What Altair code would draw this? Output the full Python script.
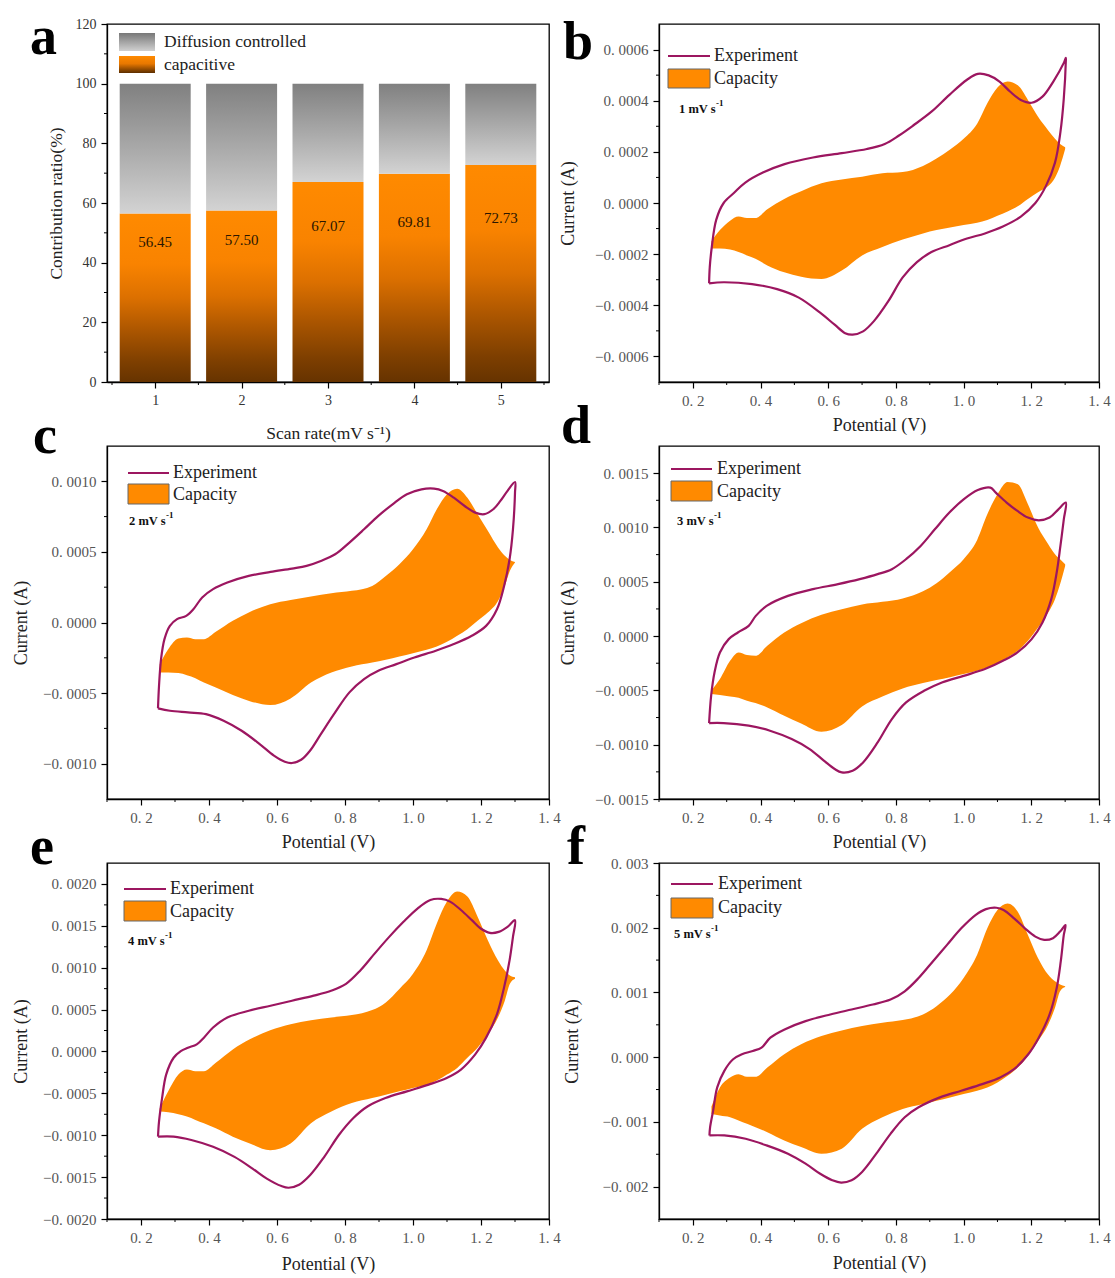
import altair as alt
import pandas as pd

SERIF = "Liberation Serif"
LINE_COLOR = "#9c1660"
ORANGE = "#ff8a00"

# ---------------- panel a data ----------------
RATES = [1, 2, 3, 4, 5]
CAPACITIVE = [56.45, 57.50, 67.07, 69.81, 72.73]
A_Y_TICKS = [0, 20, 40, 60, 80, 100, 120]
A_Y_MINOR = [10, 30, 50, 70, 90, 110]
A_X_MINOR = [0.5, 1.5, 2.5, 3.5, 4.5, 5.5]

# ---------------- CV panels data ----------------
X_TICKS = [0.2, 0.4, 0.6, 0.8, 1.0, 1.2, 1.4]
X_MINOR = [0.1, 0.3, 0.5, 0.7, 0.9, 1.1, 1.3]

CAP_V = [0.255, 0.28, 0.31, 0.335, 0.36, 0.385, 0.42, 0.47, 0.52, 0.58, 0.64, 0.70, 0.76, 0.82,
         0.88, 0.92, 0.96, 1.00, 1.04, 1.07, 1.10, 1.13, 1.16, 1.19, 1.22, 1.25, 1.27, 1.285, 1.30]

B_CAP_UP = [-0.000150, -0.000106, -0.000069, -0.000053, -0.000059, -0.000059, -0.000024, 0.000016, 0.000046,
            0.000077, 0.000092, 0.000103, 0.000116, 0.000121, 0.000145, 0.000174, 0.000209, 0.000251,
            0.000310, 0.000390, 0.000452, 0.000475, 0.000460, 0.000403, 0.000337, 0.000284, 0.000251,
            0.000231, 0.000218]
B_CAP_LO = [-0.000178, -0.000178, -0.000182, -0.000192, -0.000205, -0.000218, -0.000244, -0.000271, -0.000288,
            -0.000297, -0.000264, -0.000205, -0.000172, -0.000143, -0.000119, -0.000106, -0.000096, -0.000086,
            -0.000077, -0.000066, -0.000050, -0.000033, -0.000013, 0.000016, 0.000042, 0.000066, 0.000099,
            0.000145, 0.000211]
B_EXP_V = [0.248, 0.291, 0.375, 0.449, 0.513, 0.576, 0.619, 0.650, 0.672, 0.703, 0.735, 0.778, 0.820, 0.862,
           0.905, 0.958, 1.010, 1.063, 1.116, 1.169, 1.212, 1.243, 1.270, 1.286, 1.296, 1.302, 1.302,
           1.296, 1.265, 1.233, 1.201, 1.169, 1.137, 1.106, 1.074, 1.042, 1.010, 0.958, 0.905, 0.852, 0.809,
           0.767, 0.714, 0.640, 0.555, 0.471, 0.407, 0.354, 0.322, 0.291, 0.269, 0.256, 0.250, 0.248]
B_EXP_I = [-0.000314, -0.000310, -0.000317, -0.000337, -0.000370, -0.000429, -0.000476, -0.000509, -0.000515,
           -0.000502, -0.000462, -0.000383, -0.000291, -0.000231, -0.000192, -0.000165, -0.000139, -0.000119,
           -0.000092, -0.000053, 0.000000, 0.000066, 0.000158, 0.000277, 0.000409, 0.000555, 0.000568,
           0.000548, 0.000475, 0.000416, 0.000392, 0.000403, 0.000436, 0.000475, 0.000499, 0.000505, 0.000482,
           0.000423, 0.000357, 0.000304, 0.000264, 0.000231, 0.000211, 0.000195, 0.000178, 0.000152, 0.000119,
           0.000079, 0.000040, 0.000000, -0.000066, -0.000172, -0.000251, -0.000314]

C_CAP_UP = [-0.000295, -0.000189, -0.000113, -0.000106, -0.000118, -0.000118, -0.000066, 0.000012, 0.000075,
            0.000130, 0.000160, 0.000184, 0.000208, 0.000224, 0.000259, 0.000330, 0.000413, 0.000519,
            0.000660, 0.000802, 0.000908, 0.000948, 0.000884, 0.000767, 0.000649, 0.000531, 0.000472,
            0.000443, 0.000429]
C_CAP_LO = [-0.000354, -0.000354, -0.000358, -0.000373, -0.000394, -0.000425, -0.000460, -0.000514, -0.000557,
            -0.000585, -0.000538, -0.000425, -0.000354, -0.000311, -0.000283, -0.000264, -0.000241, -0.000217,
            -0.000193, -0.000170, -0.000137, -0.000094, -0.000047, 0.000012, 0.000071, 0.000153, 0.000259,
            0.000366, 0.000425]
C_EXP_V = [0.250, 0.285, 0.338, 0.391, 0.443, 0.496, 0.549, 0.591, 0.623, 0.644, 0.671, 0.697, 0.729, 0.771,
           0.813, 0.856, 0.898, 0.951, 1.004, 1.067, 1.120, 1.173, 1.215, 1.247, 1.268, 1.284, 1.294, 1.300,
           1.300,
           1.278, 1.257, 1.236, 1.210, 1.183, 1.152, 1.120, 1.088, 1.062, 1.025, 0.982, 0.940, 0.898, 0.856,
           0.813, 0.771, 0.729, 0.687, 0.644, 0.581, 0.517, 0.454, 0.412, 0.380, 0.354, 0.333, 0.306, 0.285,
           0.269, 0.259, 0.253, 0.250]
C_EXP_I = [-0.000608, -0.000625, -0.000637, -0.000649, -0.000696, -0.000767, -0.000861, -0.000943, -0.000986,
           -0.000995, -0.000972, -0.000908, -0.000790, -0.000637, -0.000495, -0.000401, -0.000342, -0.000295,
           -0.000248, -0.000200, -0.000153, -0.000094, -0.000024, 0.000094, 0.000259, 0.000448, 0.000660,
           0.000920, 0.000995,
           0.000932, 0.000861, 0.000802, 0.000767, 0.000778, 0.000825, 0.000884, 0.000932, 0.000948, 0.000943,
           0.000908, 0.000837, 0.000755, 0.000660, 0.000566, 0.000483, 0.000436, 0.000401, 0.000382, 0.000358,
           0.000330, 0.000283, 0.000236, 0.000177, 0.000094, 0.000047, 0.000024, -0.000024, -0.000118,
           -0.000259, -0.000448, -0.000608]

D_CAP_UP = [-0.000500, -0.000396, -0.000228, -0.000151, -0.000175, -0.000182, -0.000090, 0.000033, 0.000119,
            0.000196, 0.000248, 0.000291, 0.000315, 0.000346, 0.000413, 0.000487, 0.000591, 0.000708,
            0.000885, 0.001121, 0.001305, 0.001419, 0.001397, 0.001213, 0.000999, 0.000846, 0.000754,
            0.000708, 0.000662]
D_CAP_LO = [-0.000534, -0.000543, -0.000556, -0.000568, -0.000595, -0.000617, -0.000657, -0.000733, -0.000804,
            -0.000881, -0.000819, -0.000648, -0.000556, -0.000482, -0.000433, -0.000405, -0.000378, -0.000350,
            -0.000320, -0.000289, -0.000249, -0.000197, -0.000136, -0.000044, 0.000079, 0.000217, 0.000340,
            0.000478, 0.000646]
D_EXP_V = [0.248, 0.291, 0.365, 0.428, 0.492, 0.545, 0.587, 0.619, 0.640, 0.672, 0.703, 0.746, 0.788, 0.830,
           0.883, 0.936, 1.000, 1.063, 1.116, 1.159, 1.201, 1.233, 1.259, 1.275, 1.286, 1.296, 1.302,
           1.280, 1.254, 1.222, 1.190, 1.159, 1.127, 1.095, 1.079, 1.042, 1.000, 0.958, 0.915, 0.873, 0.830,
           0.788, 0.746, 0.693, 0.629, 0.555, 0.481, 0.418, 0.386, 0.365, 0.333, 0.306, 0.280, 0.264, 0.254,
           0.248]
D_EXP_I = [-0.000801, -0.000801, -0.000825, -0.000871, -0.000948, -0.001040, -0.001147, -0.001224, -0.001255,
           -0.001239, -0.001163, -0.000979, -0.000764, -0.000611, -0.000504, -0.000427, -0.000366, -0.000304,
           -0.000228, -0.000151, -0.000028, 0.000125, 0.000340, 0.000585, 0.000830, 0.001075, 0.001229,
           0.001167, 0.001091, 0.001066, 0.001091, 0.001152, 0.001229, 0.001321, 0.001367, 0.001345, 0.001259,
           0.001137, 0.000983, 0.000830, 0.000708, 0.000616, 0.000570, 0.000524, 0.000478, 0.000432, 0.000370,
           0.000278, 0.000186, 0.000094, 0.000033, -0.000028, -0.000151, -0.000335, -0.000550, -0.000801]

E_CAP_UP = [-0.000680, -0.000476, -0.000276, -0.000216, -0.000236, -0.000236, -0.000135, 0.000025, 0.000145,
            0.000254, 0.000326, 0.000374, 0.000406, 0.000434, 0.000494, 0.000586, 0.000747, 0.000927,
            0.001208, 0.001529, 0.001789, 0.001909, 0.001849, 0.001609, 0.001328, 0.001087, 0.000967,
            0.000907, 0.000887]
E_CAP_LO = [-0.000717, -0.000725, -0.000749, -0.000777, -0.000817, -0.000857, -0.000917, -0.001017, -0.001098,
            -0.001178, -0.001098, -0.000857, -0.000717, -0.000616, -0.000556, -0.000516, -0.000476, -0.000436,
            -0.000396, -0.000348, -0.000276, -0.000196, -0.000075, 0.000045, 0.000205, 0.000406, 0.000606,
            0.000807, 0.000867]
E_EXP_V = [0.250, 0.296, 0.348, 0.412, 0.475, 0.528, 0.570, 0.613, 0.634, 0.665, 0.697, 0.739, 0.782, 0.824,
           0.866, 0.919, 0.982, 1.046, 1.099, 1.141, 1.183, 1.215, 1.247, 1.268, 1.284, 1.294, 1.300,
           1.278, 1.252, 1.226, 1.199, 1.173, 1.141, 1.109, 1.083, 1.051, 1.014, 0.972, 0.930, 0.887, 0.845,
           0.803, 0.761, 0.708, 0.644, 0.581, 0.517, 0.454, 0.412, 0.385, 0.364, 0.338, 0.317, 0.296, 0.274,
           0.262, 0.253, 0.250]
E_EXP_I = [-0.001017, -0.001017, -0.001057, -0.001138, -0.001258, -0.001398, -0.001518, -0.001607, -0.001627,
           -0.001591, -0.001478, -0.001258, -0.000997, -0.000797, -0.000657, -0.000556, -0.000476, -0.000396,
           -0.000316, -0.000216, -0.000035, 0.000165, 0.000446, 0.000767, 0.001087, 0.001368, 0.001568,
           0.001488, 0.001428, 0.001416, 0.001468, 0.001568, 0.001689, 0.001789, 0.001821, 0.001809, 0.001709,
           0.001548, 0.001368, 0.001168, 0.000967, 0.000807, 0.000727, 0.000666, 0.000606, 0.000546, 0.000486,
           0.000406, 0.000286, 0.000165, 0.000085, 0.000045, 0.000005, -0.000075, -0.000276, -0.000556,
           -0.000837, -0.001017]

F_CAP_UP = [-0.000760, -0.000467, -0.000313, -0.000262, -0.000303, -0.000303, -0.000160, 0.000045, 0.000199,
            0.000327, 0.000414, 0.000480, 0.000532, 0.000573, 0.000660, 0.000788, 0.000967, 0.001223,
            0.001581, 0.001991, 0.002273, 0.002375, 0.002247, 0.001889, 0.001530, 0.001274, 0.001172,
            0.001121, 0.001095]
F_CAP_LO = [-0.000877, -0.000902, -0.000928, -0.000979, -0.001030, -0.001081, -0.001158, -0.001286, -0.001389,
            -0.001491, -0.001414, -0.001107, -0.000928, -0.000800, -0.000723, -0.000672, -0.000621, -0.000569,
            -0.000518, -0.000467, -0.000390, -0.000288, -0.000160, 0.000020, 0.000250, 0.000506, 0.000762,
            0.001018, 0.001085]
F_EXP_V = [0.249, 0.293, 0.356, 0.418, 0.481, 0.533, 0.575, 0.612, 0.638, 0.669, 0.700, 0.742, 0.784, 0.826,
           0.867, 0.930, 0.993, 1.055, 1.108, 1.149, 1.191, 1.222, 1.254, 1.275, 1.287, 1.296, 1.301,
           1.285, 1.264, 1.238, 1.212, 1.181, 1.149, 1.118, 1.097, 1.066, 1.035, 0.993, 0.951, 0.909, 0.867,
           0.826, 0.784, 0.732, 0.669, 0.606, 0.533, 0.471, 0.429, 0.403, 0.377, 0.345, 0.319, 0.293, 0.272,
           0.260, 0.251, 0.249]
F_EXP_I = [-0.001209, -0.001209, -0.001261, -0.001363, -0.001491, -0.001645, -0.001798, -0.001901, -0.001937,
           -0.001901, -0.001773, -0.001491, -0.001184, -0.000928, -0.000774, -0.000621, -0.000518, -0.000416,
           -0.000313, -0.000185, 0.000045, 0.000301, 0.000660, 0.001069, 0.001479, 0.001889, 0.002042,
           0.001940, 0.001838, 0.001812, 0.001863, 0.001991, 0.002145, 0.002273, 0.002309, 0.002288, 0.002196,
           0.001991, 0.001735, 0.001479, 0.001223, 0.001018, 0.000890, 0.000813, 0.000737, 0.000660, 0.000557,
           0.000429, 0.000301, 0.000148, 0.000096, 0.000045, -0.000032, -0.000211, -0.000467, -0.000825,
           -0.001081, -0.001209]

# ---------------- styles ----------------
def grad(stops):
    return alt.LinearGradient(
        gradient="linear",
        stops=[alt.GradientStop(color=c, offset=o) for o, c in stops],
        x1=0, x2=0, y1=0, y2=1,
    )

ORANGE_GRAD = grad([(0, "#ff8a00"), (0.3, "#f98300"), (0.5, "#dc7000"), (0.7, "#aa5500"), (0.88, "#7e3f00"), (1, "#663300")])
GRAY_GRAD = grad([(0, "#808080"), (0.5, "#a9a9a9"), (1, "#d3d3d3")])
SW_GRAY = grad([(0, "#787878"), (1, "#d0d0d0")])
SW_ORANGE = grad([(0, "#ff8a00"), (0.45, "#e87800"), (1, "#5c2e00")])

ONE = pd.DataFrame({"k": [0]})


def txt(s, x, y, size, weight="normal", color="#222", align="left", baseline="middle"):
    return alt.Chart(ONE).mark_text(
        text=s, font=SERIF, fontSize=size, fontWeight=weight, color=color,
        align=align, baseline=baseline,
    ).encode(x=alt.value(x), y=alt.value(y))


def letter(s, x, y):
    return txt(s, x, y, 54, weight="bold", color="#000", baseline="alphabetic")


# ---------------- panel a ----------------
W_A, H_A = 442, 358
xs_a = alt.Scale(domain=[0.5, 5.5], nice=False, zero=False)
ys_a = alt.Scale(domain=[0, 120], nice=False, zero=False)
df_a = pd.DataFrame({"rate": RATES, "cap": CAPACITIVE})
base_a = alt.Chart(df_a).transform_calculate(
    total="100", ly="datum.cap * 0.49 + 19.3", lbl="format(datum.cap, '.2f')"
)
x_axis_a = alt.Axis(
    values=RATES, format="d", tickSize=6, labelPadding=5, labelFontSize=14, labelColor="#333",
    labelFont=SERIF, title="Scan rate(mV s\u207b\u00b9)", titleFont=SERIF, titleFontSize=17.5,
    titleFontWeight="normal", titleColor="#222", titleX=W_A / 2, titleY=51, titleAlign="center",
    titleBaseline="middle", grid=False,
)
y_axis_a = alt.Axis(
    values=A_Y_TICKS, format="d", tickSize=6, labelPadding=5, labelFontSize=14, labelColor="#333",
    labelFont=SERIF, title="Contribution ratio(%)", titleFont=SERIF, titleFontSize=17.5,
    titleFontWeight="normal", titleColor="#222", titleX=-51, titleY=H_A / 2, titleAngle=270,
    titleAlign="center", titleBaseline="middle", grid=False,
)


def XA(field):
    return alt.X(field, scale=xs_a, axis=x_axis_a, title="Scan rate(mV s\u207b\u00b9)")


def YA(field, **kw):
    return alt.Y(field, scale=ys_a, axis=y_axis_a, title="Contribution ratio(%)", **kw)


cap_bars = base_a.mark_bar(size=71, color=ORANGE_GRAD).encode(
    x=XA("rate:Q"), y=YA("cap:Q", stack=None), y2=alt.datum(0),
)
dif_bars = base_a.mark_bar(size=71, color=GRAY_GRAD).encode(
    x=XA("rate:Q"), y=YA("cap:Q", stack=None), y2="total:Q",
)
bar_lbl = base_a.mark_text(font=SERIF, fontSize=15, color="#2a1600").encode(
    x=XA("rate:Q"), y=YA("ly:Q"), text="lbl:N",
)
a_minor_y = alt.Chart(pd.DataFrame({"t": A_Y_MINOR})).mark_rule(color="#000", strokeWidth=1).encode(
    y=YA("t:Q"), x=alt.value(0), x2=alt.value(-3))
a_minor_x = alt.Chart(pd.DataFrame({"t": A_X_MINOR})).mark_rule(color="#000", strokeWidth=1).encode(
    x=XA("t:Q"), y=alt.value(H_A), y2=alt.value(H_A + 3))
a_sw1 = alt.Chart(ONE).mark_rect(color=SW_GRAY).encode(
    x=alt.value(12), x2=alt.value(48), y=alt.value(9), y2=alt.value(27))
a_sw2 = alt.Chart(ONE).mark_rect(color=SW_ORANGE).encode(
    x=alt.value(12), x2=alt.value(48), y=alt.value(32), y2=alt.value(49))
marker = alt.Chart(ONE).mark_text(text=".", fontSize=2, color="#ffffff", align="left", baseline="top").encode(
    x=alt.value(-106), y=alt.value(-23))

panel_a = alt.layer(
    cap_bars, dif_bars, bar_lbl, a_minor_y, a_minor_x, a_sw1, a_sw2,
    txt("Diffusion controlled", 57, 18, 17.5), txt("capacitive", 57, 41, 17.5),
    letter("a", -77, 30), marker,
).properties(width=W_A, height=H_A)


# ---------------- CV panels ----------------
def cv_panel(W, H, ydom, yticks, yminor, fmt, cap_up, cap_lo, exp_v, exp_i, rate_txt,
             let, let_xy, leg, ytx, xty):
    xs = alt.Scale(domain=[0.1, 1.4], nice=False, zero=False)
    ys = alt.Scale(domain=ydom, nice=False, zero=False)
    xaxis = alt.Axis(
        values=X_TICKS, labelExpr="replace(format(datum.value, '.1f'), '.', '. ')",
        tickSize=6, labelPadding=5, labelFontSize=15, labelColor="#555", labelFont=SERIF,
        title="Potential (V)", titleFont=SERIF, titleFontSize=18, titleFontWeight="normal",
        titleColor="#222", titleX=W / 2, titleY=xty, titleAlign="center", titleBaseline="middle",
        grid=False,
    )
    yaxis = alt.Axis(
        values=yticks, labelExpr="replace(format(datum.value, '%s'), '.', '. ')" % fmt,
        tickSize=6, labelPadding=5, labelFontSize=15, labelColor="#555", labelFont=SERIF,
        title="Current (A)", titleFont=SERIF, titleFontSize=18, titleFontWeight="normal",
        titleColor="#222", titleX=ytx, titleY=H / 2, titleAngle=270, titleAlign="center",
        titleBaseline="middle", grid=False,
    )

    def X(field):
        return alt.X(field, scale=xs, axis=xaxis, title="Potential (V)")

    def Y(field):
        return alt.Y(field, scale=ys, axis=yaxis, title="Current (A)")

    cap_df = pd.DataFrame(list(zip(CAP_V, cap_up, cap_lo)), columns=["V", "up", "lo"])
    exp_df = pd.DataFrame([(i, v, c) for i, (v, c) in enumerate(zip(exp_v, exp_i))],
                          columns=["i", "V", "I"])
    area = alt.Chart(cap_df).mark_area(color=ORANGE, opacity=1, interpolate="monotone").encode(
        x=X("V:Q"), y=Y("up:Q"), y2="lo:Q",
    )
    line = alt.Chart(exp_df).mark_line(color=LINE_COLOR, strokeWidth=2.2, interpolate="catmull-rom").encode(
        x=X("V:Q"), y=Y("I:Q"), order="i:Q",
    )
    mx = alt.Chart(pd.DataFrame({"t": X_MINOR})).mark_rule(color="#000", strokeWidth=1).encode(
        x=X("t:Q"), y=alt.value(H), y2=alt.value(H + 3))
    my = alt.Chart(pd.DataFrame({"t": yminor})).mark_rule(color="#000", strokeWidth=1).encode(
        y=Y("t:Q"), x=alt.value(0), x2=alt.value(-3))
    lx0, lx1, ly1, by0, by1, tx, ty2, rx, ry = leg
    leg_line = alt.Chart(ONE).mark_rule(color=LINE_COLOR, strokeWidth=2.2).encode(
        x=alt.value(lx0), x2=alt.value(lx1), y=alt.value(ly1))
    leg_box = alt.Chart(ONE).mark_rect(color=ORANGE, stroke="#666", strokeWidth=1).encode(
        x=alt.value(lx0), x2=alt.value(lx1), y=alt.value(by0), y2=alt.value(by1))
    return alt.layer(
        area, line, mx, my, leg_line, leg_box,
        txt("Experiment", tx, ly1, 18), txt("Capacity", tx, ty2, 18),
        txt(rate_txt, rx, ry, 12.5, weight="bold", color="#111"),
        txt("-1", rx + 37, ry - 6, 9, weight="bold", color="#111"),
        letter(let, let_xy[0], let_xy[1]),
    ).properties(width=W, height=H)


panel_b = cv_panel(
    440, 358, [-0.0007, 0.0007],
    [-0.0006, -0.0004, -0.0002, 0.0, 0.0002, 0.0004, 0.0006],
    [-0.0005, -0.0003, -0.0001, 0.0001, 0.0003, 0.0005], ".4f",
    B_CAP_UP, B_CAP_LO, B_EXP_V, B_EXP_I, "1 mV s",
    "b", (-96, 35), (9, 51, 32, 45, 64, 55, 55, 20, 85), -91, 43,
)
panel_c = cv_panel(
    442, 353, [-0.00125, 0.00125],
    [-0.001, -0.0005, 0.0, 0.0005, 0.001],
    [-0.00075, -0.00025, 0.00025, 0.00075], ".4f",
    C_CAP_UP, C_CAP_LO, C_EXP_V, C_EXP_I, "2 mV s",
    "c", (-74, 7), (21, 62, 27, 38, 58, 66, 49, 22, 75), -86, 43,
)
panel_d = cv_panel(
    440, 353, [-0.0015, 0.00175],
    [-0.0015, -0.001, -0.0005, 0.0, 0.0005, 0.001, 0.0015],
    [-0.00125, -0.00075, -0.00025, 0.00025, 0.00075, 0.00125], ".4f",
    D_CAP_UP, D_CAP_LO, D_EXP_V, D_EXP_I, "3 mV s",
    "d", (-98, -3), (12, 53, 23, 35, 55, 58, 46, 18, 75), -91, 43,
)
panel_e = cv_panel(
    442, 356, [-0.002, 0.00225],
    [-0.002, -0.0015, -0.001, -0.0005, 0.0, 0.0005, 0.001, 0.0015, 0.002],
    [-0.00175, -0.00125, -0.00075, -0.00025, 0.00025, 0.00075, 0.00125, 0.00175], ".4f",
    E_CAP_UP, E_CAP_LO, E_EXP_V, E_EXP_I, "4 mV s",
    "e", (-77, 1), (17, 59, 26, 38, 58, 63, 49, 21, 78), -86, 45,
)
panel_f = cv_panel(
    440, 356, [-0.0025, 0.003],
    [-0.002, -0.001, 0.0, 0.001, 0.002, 0.003],
    [-0.0015, -0.0005, 0.0005, 0.0015, 0.0025], ".3f",
    F_CAP_UP, F_CAP_LO, F_EXP_V, F_EXP_I, "5 mV s",
    "f", (-92, 1), (12, 54, 21, 35, 55, 59, 45, 15, 71), -87, 44,
)

chart = alt.concat(
    panel_a, panel_b, panel_c, panel_d, panel_e, panel_f,
    columns=2, spacing={"row": 64, "column": 110}, bounds="flush", align="each",
).properties(
    padding=0, background="white"
).configure_view(
    stroke="#000", strokeWidth=1.3
).configure_axis(
    domainColor="#000", domainWidth=1.3, tickColor="#000", tickWidth=1.2,
    labelFlush=False, labelOverlap=False, grid=False,
)

chart.save("out.html", embed_options={"renderer": "svg", "actions": False})
